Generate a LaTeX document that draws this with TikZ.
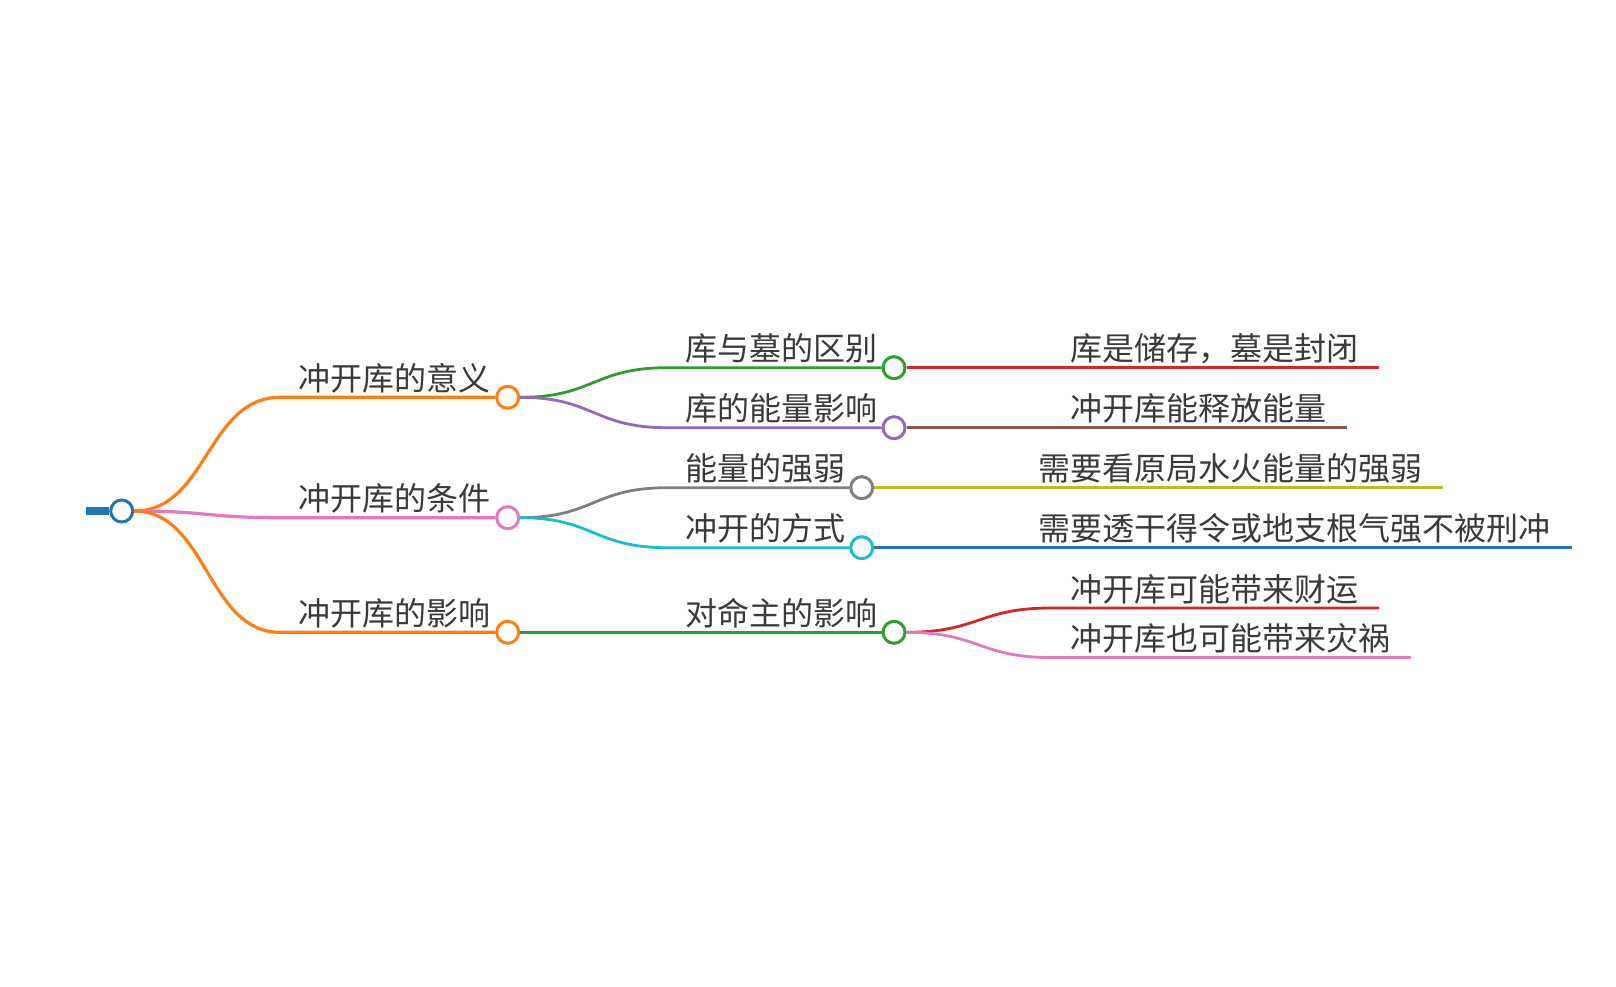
\documentclass[tikz,border=0pt]{standalone}
\usepackage{fontspec}
\usepackage{tikz}
\usetikzlibrary{positioning,calc}
\setmainfont{Noto Sans CJK SC}
\definecolor{cblue}{HTML}{1F77B4}
\definecolor{corange}{HTML}{FF7F0E}
\definecolor{cgreen}{HTML}{2CA02C}
\definecolor{cred}{HTML}{D62728}
\definecolor{cpurple}{HTML}{9467BD}
\definecolor{cbrown}{HTML}{8C564B}
\definecolor{cpink}{HTML}{E377C2}
\definecolor{cgray}{HTML}{7F7F7F}
\definecolor{colive}{HTML}{BCBD22}
\definecolor{ccyan}{HTML}{17BECF}
\definecolor{inkgray}{HTML}{3A3A3A}
\tikzset{
  dot/.style={circle,draw=#1,fill=white,line width=1.5pt,minimum size=11pt,inner sep=0pt},
  link/.style={line width=1.4pt,draw=#1},
  topic/.style={anchor=base west,inner sep=0pt,text=inkgray,font=\fontsize{16pt}{19pt}\selectfont},
  spline/.style={to path={let \p1=(\tikztostart),\p2=(\tikztotarget) in
    .. controls ({(\x1+\x2)/2},\y1) and ({(\x1+\x2)/2},\y2) .. (\tikztotarget)}}
}
\begin{document}
\begin{tikzpicture}[x=0.5pt,y=-0.5pt]
  \useasboundingbox (0,0) rectangle (1616,986);

  % root
  \coordinate (stub) at (86,511);
  \node[dot=cblue] (root) at (121.7,511) {};
  \draw[cblue,line width=3.6pt] (stub) -- (root);

  % level 1
  \node[dot=corange] (m1) at (507.7,397.3) {};
  \node[dot=cpink] (m2) at (507.7,517.7) {};
  \node[dot=corange] (m3) at (507.7,632.3) {};
  \coordinate (j1) at (280,397.3);
  \coordinate (j2) at (280,517.7);
  \coordinate (j3) at (280,632.3);
  \node[topic] (t1) at (298,390.3) {冲开库的意义};
  \node[topic] (t2) at (298,510.7) {冲开库的条件};
  \node[topic] (t3) at (298,625.3) {冲开库的影响};
  \draw[link=corange,line width=1.6pt] (root.east) to[spline] (j1) -- (m1);
  \draw[link=cpink,line width=1.6pt] (root.east) to[spline] (j2) -- (m2);
  \draw[link=corange,line width=1.6pt] (root.east) to[spline] (j3) -- (m3);

  % level 2
  \node[dot=cgreen] (n1) at (894,367.7) {};
  \node[dot=cpurple] (n2) at (894,427.7) {};
  \node[dot=cgray] (n3) at (861.7,487.7) {};
  \node[dot=ccyan] (n4) at (861.7,547.7) {};
  \node[dot=cgreen] (n5) at (894,632.3) {};
  \coordinate (k1) at (667,367.7);
  \coordinate (k2) at (667,427.7);
  \coordinate (k3) at (667,487.7);
  \coordinate (k4) at (667,547.7);
  \coordinate (k5) at (667,632.3);
  \node[topic] (u1) at (685,360.7) {库与墓的区别};
  \node[topic] (u2) at (685,420.7) {库的能量影响};
  \node[topic] (u3) at (685,480.7) {能量的强弱};
  \node[topic] (u4) at (685,540.7) {冲开的方式};
  \node[topic] (u5) at (685,625.3) {对命主的影响};
  \draw[link=cgreen] (m1.east) to[spline] (k1) -- (n1);
  \draw[link=cpurple] (m1.east) to[spline] (k2) -- (n2);
  \draw[link=cgray] (m2.east) to[spline] (k3) -- (n3);
  \draw[link=ccyan] (m2.east) to[spline] (k4) -- (n4);
  \draw[link=cgreen] (m3.east) to[spline] (k5) -- (n5);

  % level 3
  \coordinate (h1) at (1051,367.7);
  \coordinate (h2) at (1051,427.7);
  \coordinate (h3) at (1020,487.7);
  \coordinate (h4) at (1020,547.7);
  \coordinate (h5) at (1051,608);
  \coordinate (h6) at (1051,657.5);
  \coordinate (e1) at (1379,367.7);
  \coordinate (e2) at (1347,427.7);
  \coordinate (e3) at (1443,487.7);
  \coordinate (e4) at (1572,547.7);
  \coordinate (e5) at (1379,608);
  \coordinate (e6) at (1411,657.5);
  \node[topic] (v1) at (1070,360.7) {库是储存，墓是封闭};
  \node[topic] (v2) at (1070,420.7) {冲开库能释放能量};
  \node[topic] (v3) at (1038,480.7) {需要看原局水火能量的强弱};
  \node[topic] (v4) at (1038,540.7) {需要透干得令或地支根气强不被刑冲};
  \node[topic] (v5) at (1070,601) {冲开库可能带来财运};
  \node[topic] (v6) at (1070,650.5) {冲开库也可能带来灾祸};
  \draw[link=cred] (n1.east) to[spline] (h1) -- (e1);
  \draw[link=cbrown] (n2.east) to[spline] (h2) -- (e2);
  \draw[link=colive] (n3.east) to[spline] (h3) -- (e3);
  \draw[link=cblue] (n4.east) to[spline] (h4) -- (e4);
  \draw[link=cred] (n5.east) to[spline] (h5) -- (e5);
  \draw[link=cpink] (n5.east) to[spline] (h6) -- (e6);
\end{tikzpicture}
\end{document}
